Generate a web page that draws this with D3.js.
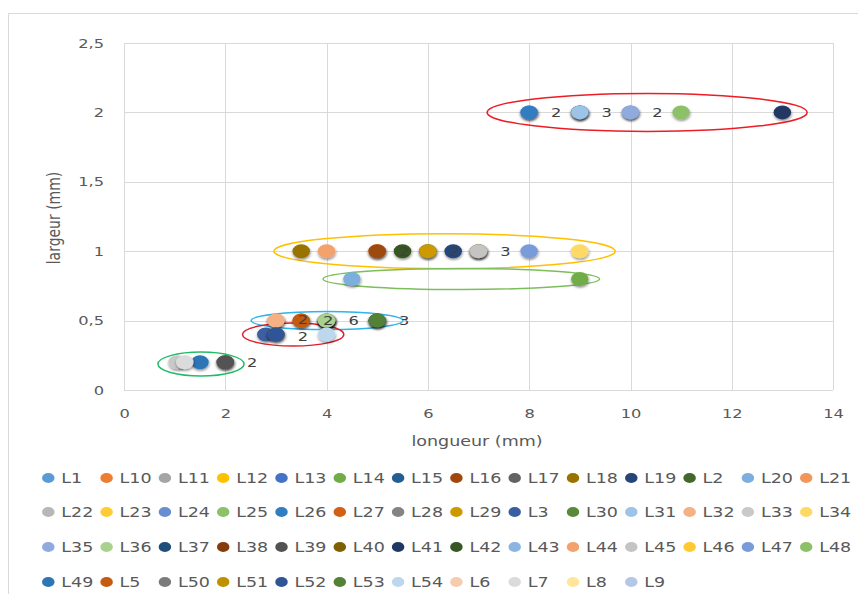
<!DOCTYPE html>
<html>
<head>
<meta charset="utf-8">
<script src="https://cdn.jsdelivr.net/npm/d3@7"></script>
<style>
  html, body { margin: 0; padding: 0; background: #ffffff; }
  svg { display: block; }
  text { font-family: "DejaVu Sans", sans-serif; }
</style>
</head>
<body>
<svg id="chart" width="858" height="594"></svg>
<script>
// ---------- data ----------
const seriesNames = ["L1","L10","L11","L12","L13","L14","L15","L16","L17","L18","L19","L2","L20","L21","L22","L23","L24","L25","L26","L27","L28","L29","L3","L30","L31","L32","L33","L34","L35","L36","L37","L38","L39","L40","L41","L42","L43","L44","L45","L46","L47","L48","L49","L5","L50","L51","L52","L53","L54","L6","L7","L8","L9"];
const seriesColors = ["#5B9BD5","#ED7D31","#A5A5A5","#FFC000","#4472C4","#70AD47","#255E91","#9E480E","#636363","#997300","#264478","#43682B","#7CAFDD","#F1975A","#B7B7B7","#FFCD33","#698ED0","#8CC168","#327DC2","#D26012","#848484","#CC9A00","#3A5FA0","#5A8A39","#9DC3E6","#F4B183","#C9C9C9","#FFD966","#8FAADC","#A9D18E","#1F4E79","#843C0C","#525252","#7F6000","#203864","#375623","#8CB4E0","#F3A26E","#C4C4C4","#FFC932","#7A9BDA","#8CC168","#2E75B6","#C55A11","#7B7B7B","#BF9000","#2F5597","#538135","#BDD7EE","#F8CBAD","#DBDBDB","#FFE699","#B4C7E7"];
// longueur (mm) / largeur (mm) for each series (null = no point)
const seriesX = [8,5,4,4,9,9,9,5,2,3.5,6.5,6,4.5,3,7,4,10,4,8,3.5,4,6,2.8,5,9,3,1.05,9,10,4,5,3,2,7,13,5.5,null,4,7,null,8,11,1.5,3.5,null,null,3,5,4,null,1.2,null,null];
const seriesY = [2,1,0.5,0.5,2,0.8,2,1,0.2,1,1,1,0.8,0.5,1,0.5,2,0.5,2,0.5,0.5,1,0.4,0.5,2,0.5,0.2,1,2,0.5,0.5,0.4,0.2,1,2,1,null,1,1,null,1,2,0.2,0.5,null,null,0.4,0.5,0.4,null,0.2,null,null];

// data labels (counts)
const labelX = [8,9,10,5,6,7,3,3.5,4,5,3,2];
const labelY = [2,2,2,1,1,1,0.5,0.5,0.5,0.5,0.4,0.2];
const labelText = ["2","3","2","2","2","3","2","2","6","3","2","2"];

// hand-drawn group ellipses (data units)
const ellipseCX = [10.33, 6.33, 6.66, 4.01, 3.34, 1.52];
const ellipseCY = [2.0, 1.0, 0.8, 0.5, 0.4, 0.187];
const ellipseRX = [3.16, 3.37, 2.73, 1.5, 1.0, 0.85];
const ellipseRY = [0.137, 0.126, 0.076, 0.065, 0.083, 0.086];
const ellipseColors = ["#EE1C25", "#FFC000", "#7DBE5A", "#2FB3EC", "#E0202A", "#22BC68"];

const xTicks = [0,2,4,6,8,10,12,14];
const xTickLabels = ["0","2","4","6","8","10","12","14"];
const yTicks = [0,0.5,1,1.5,2,2.5];
const yTickLabels = ["0","0,5","1","1,5","2","2,5"];
const xTitle = "longueur (mm)";
const yTitle = "largeur (mm)";

// ---------- layout ----------
const SX = 1.25; // horizontal stretch of the original picture
const svg = d3.select("#chart");
svg.append("rect").attr("width", 858).attr("height", 594).attr("fill", "#ffffff");

const defs = svg.append("defs");
const f = defs.append("filter").attr("id", "shadow")
  .attr("x", "-50%").attr("y", "-50%").attr("width", "200%").attr("height", "200%");
f.append("feDropShadow").attr("dx", 0.3).attr("dy", 1.6).attr("stdDeviation", 1.3)
  .attr("flood-color", "#000").attr("flood-opacity", 0.45);

const g = svg.append("g").attr("transform", `scale(${SX},1)`);
const px = v => v / SX;

// outer frame
g.append("rect")
  .attr("x", px(8.5)).attr("y", 13.5).attr("width", px(900)).attr("height", 700)
  .attr("fill", "none").attr("stroke", "#D9D9D9").attr("stroke-width", 1)
  .attr("vector-effect", "non-scaling-stroke");

const x = d3.scaleLinear().domain([0, 14]).range([px(124), px(833)]);
const y = d3.scaleLinear().domain([0, 2.5]).range([390, 43]);

// axes with gridlines
const xAxis = d3.axisBottom(x).tickValues(xTicks)
  .tickFormat((d, i) => xTickLabels[i])
  .tickSize(-(y(0) - y(2.5))).tickPadding(19);
const gx = g.append("g").attr("transform", `translate(0,${y(0)})`).call(xAxis);
gx.select(".domain").remove();
gx.selectAll(".tick line").attr("stroke", "#D9D9D9").attr("vector-effect", "non-scaling-stroke")
  .attr("shape-rendering", "crispEdges");
gx.selectAll(".tick text").attr("fill", "#595959").attr("font-size", 13)
  .attr("font-family", "DejaVu Sans");

const yAxis = d3.axisLeft(y).tickValues(yTicks)
  .tickFormat((d, i) => yTickLabels[i])
  .tickSize(-(x(14) - x(0))).tickPadding(px(20));
const gy = g.append("g").attr("transform", `translate(${x(0)},0)`).call(yAxis);
gy.select(".domain").remove();
gy.selectAll(".tick line").attr("stroke", "#D9D9D9").attr("vector-effect", "non-scaling-stroke")
  .attr("shape-rendering", "crispEdges");
gy.selectAll(".tick text").attr("fill", "#595959").attr("font-size", 13)
  .attr("font-family", "DejaVu Sans");

// axis titles
g.append("text").attr("x", px(477)).attr("y", 446).attr("text-anchor", "middle")
  .attr("fill", "#595959").attr("font-size", 14).text(xTitle);
g.append("text").attr("transform", `translate(${px(60)},218) rotate(-90)`)
  .attr("text-anchor", "middle").attr("fill", "#595959").attr("font-size", 14).text(yTitle);

// ellipses
g.append("g").selectAll("ellipse").data(ellipseCX).join("ellipse")
  .attr("cx", (d, i) => x(d))
  .attr("cy", (d, i) => y(ellipseCY[i]))
  .attr("rx", (d, i) => x(d + ellipseRX[i]) - x(d))
  .attr("ry", (d, i) => y(ellipseCY[i] - ellipseRY[i]) - y(ellipseCY[i]))
  .attr("fill", "none")
  .attr("stroke", (d, i) => ellipseColors[i])
  .attr("stroke-width", 1.5)
  .attr("vector-effect", "non-scaling-stroke");

// markers
const pts = seriesNames.map((n, i) => ({ name: n, color: seriesColors[i], x: seriesX[i], y: seriesY[i] }))
  .filter(d => d.x !== null && d.y !== null);
g.append("g").selectAll("circle").data(pts).join("circle")
  .attr("cx", d => x(d.x)).attr("cy", d => y(d.y)).attr("r", 7)
  .attr("fill", d => d.color)
  .attr("filter", "url(#shadow)");

// data labels (the two stacked labels near x=3 are pulled apart slightly)
g.append("g").selectAll("text").data(labelText).join("text")
  .attr("x", (d, i) => x(labelX[i]) + px(27))
  .attr("y", (d, i) => y(labelY[i]) + (labelY[i] === 0.4 ? 2 : (labelY[i] === 0.5 && labelX[i] === 3 ? -1 : 0)))
  .attr("dy", "0.36em")
  .attr("text-anchor", "middle")
  .attr("fill", "#404040").attr("font-size", 13)
  .text(d => d);

// legend
const cols = 14;
const legX0 = 48.3, legStep = 58.3;
const legRows = [478, 512, 547, 582];
const leg = g.append("g").selectAll("g").data(seriesNames).join("g")
  .attr("transform", (d, i) => `translate(${px(legX0 + legStep * (i % cols))},${legRows[Math.floor(i / cols)]})`);
leg.append("circle").attr("r", 5).attr("fill", (d, i) => seriesColors[i]);
leg.append("text").attr("x", px(13)).attr("dy", "0.36em")
  .attr("fill", "#595959").attr("font-size", 14).text(d => d);
</script>
</body>
</html>
